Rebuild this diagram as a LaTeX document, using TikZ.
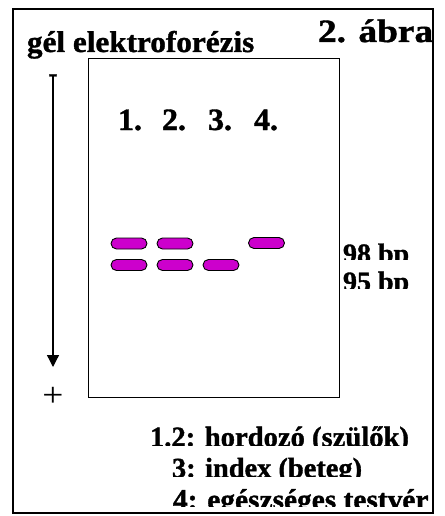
\documentclass[tikz,border=0pt]{standalone}
\usepackage{fontspec}
\usepackage{graphicx}
\setmainfont{Liberation Serif}[BoldFeatures={FakeBold=1.2}]
\usetikzlibrary{arrows.meta}
\definecolor{bandcol}{HTML}{CC00CC}
\newcommand\bt[3]{\scalebox{#2}[1]{\fontsize{#1pt}{#1pt}\selectfont\bfseries #3}}
\tikzset{
  bandbox/.style={draw=black, line width=0.9pt, fill=bandcol, rounded corners=5.5pt,
    minimum width=36pt, minimum height=11pt, inner sep=0pt},
  lbl/.style={anchor=base west, inner sep=0pt, outer sep=0pt},
  frame/.style={draw=black, line width=1.2pt}
}
\begin{document}
\begin{tikzpicture}[x=1pt,y=-1pt]
\useasboundingbox (0,0) rectangle (444,516);
% outer frame
\draw[frame] (13,9) rectangle (433,513);
% gel
\node[frame, draw, minimum width=251pt, minimum height=339pt, inner sep=0pt, anchor=north west] (gel) at (88,58) {};
% titles
\node[lbl] (title) at (27,52) {\bt{30}{1.04}{gél elektroforézis}};
\node[lbl] (fig) at (318,42) {\bt{32.5}{1.15}{2. ábra}};
% lane labels
\node[anchor=base, inner sep=0pt] (l1) at (130,130) {\bt{31}{1.03}{1.}};
\node[anchor=base, inner sep=0pt] (l2) at (174,130) {\bt{31}{1.03}{2.}};
\node[anchor=base, inner sep=0pt] (l3) at (220,130) {\bt{31}{1.03}{3.}};
\node[anchor=base, inner sep=0pt] (l4) at (266,130) {\bt{31}{1.03}{4.}};
% bands
\node[bandbox] (b1a) at (129,243.5) {};
\node[bandbox] (b2a) at (175,243.5) {};
\node[bandbox] (b4a) at (266.5,243) {};
\node[bandbox] (b1b) at (129,265) {};
\node[bandbox] (b2b) at (175,265) {};
\node[bandbox] (b3b) at (221,265) {};
% size labels (clipped)
\begin{scope}
\clip (340.5,235) rectangle (430,259);
\node[lbl] (s98) at (343,263) {\bt{28}{1.0}{98 bp}};
\end{scope}
\begin{scope}
\clip (340.5,265) rectangle (430,288);
\node[lbl] (s95) at (343,291) {\bt{28}{1.0}{95 bp}};
\end{scope}
% electrophoresis arrow
\coordinate (atop) at (53,75);
\coordinate (abot) at (53,367);
\draw[line width=1.3pt, -{Triangle[length=12pt,width=12pt]}] (atop) -- (abot);
\node[inner sep=0pt, anchor=base] (minus) at (53,81.5) {\fontsize{26pt}{26pt}\selectfont\bfseries -};
\node[inner sep=0pt, anchor=center] (plus) at (53,396.5) {\scalebox{1.1}[1]{\fontsize{34pt}{34pt}\selectfont +}};
% legend (clipped)
\begin{scope}
\clip (140,420) rectangle (430,445);
\node[lbl] (leg1) at (150,446.5) {\bt{28.6}{1.0}{1.2: hordozó (szülők)}};
\end{scope}
\begin{scope}
\clip (160,450) rectangle (430,476);
\node[lbl] (leg2) at (172,477.5) {\bt{28.4}{1.0}{3: index (beteg)}};
\end{scope}
\begin{scope}
\clip (160,482) rectangle (430,506);
\node[lbl] (leg3) at (173,509.5) {\bt{29.4}{1.0}{4: egészséges testvér}};
\end{scope}
\end{tikzpicture}
\end{document}
